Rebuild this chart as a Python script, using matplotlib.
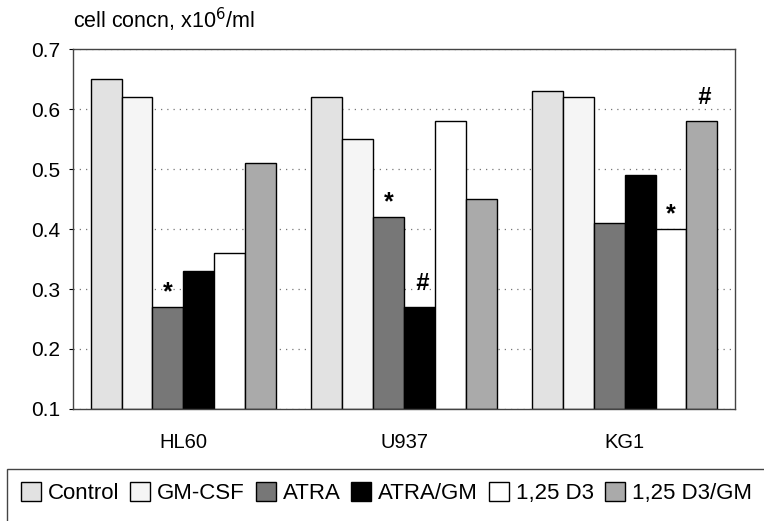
import matplotlib.pyplot as plt
import matplotlib.patches as mpatches
import numpy as np

plt.rcParams['font.family'] = ['Liberation Sans', 'DejaVu Sans']

# cell lines and treatments
groups = ['HL60', 'U937', 'KG1']
treatments = ['Control', 'GM-CSF', 'ATRA', 'ATRA/GM', '1,25 D3', '1,25 D3/GM']

# cell concentration, x10^6/ml (one list per treatment, values per cell line)
control = [0.65, 0.62, 0.63]
gm_csf = [0.62, 0.55, 0.62]
atra = [0.27, 0.42, 0.41]
atra_gm = [0.33, 0.27, 0.49]
d3 = [0.36, 0.58, 0.40]
d3_gm = [0.51, 0.45, 0.58]
values = [control, gm_csf, atra, atra_gm, d3, d3_gm]

# significance marks: (treatment index, group index, symbol)
marks = [(2, 0, '*'), (2, 1, '*'), (3, 1, '#'), (4, 2, '*'), (5, 2, '#')]

colors = ['#e2e2e2', '#f5f5f5', '#777777', 'black', 'white', '#aaaaaa']

fig = plt.figure(figsize=(7.64, 5.21), dpi=100)
ax = fig.add_axes([73/764, 1 - 409/521, (735 - 73)/764, (409 - 49)/521])

x = np.arange(len(groups))
w = 0.14
for i, (name, vals) in enumerate(zip(treatments, values)):
    pos = x - 2.5*w + i*w
    ax.bar(pos, np.array(vals) - 0.1, w, bottom=0.1, color=colors[i],
           edgecolor='black', linewidth=1.0, label=name)

for ti, gi, sym in marks:
    xp = x[gi] - 2.5*w + ti*w
    yv = values[ti][gi]
    if sym == '*':
        ax.text(xp, yv + 0.005, sym, ha='center', va='bottom', fontsize=18, fontweight='bold')
    else:
        ax.text(xp + 0.01, yv + 0.02, sym, ha='center', va='bottom', fontsize=17,
                style='italic', fontweight='bold')

ax.set_ylim(0.1, 0.7)
ax.set_xlim(-0.5, 2.5)
ax.set_yticks([0.1, 0.2, 0.3, 0.4, 0.5, 0.6, 0.7])
ax.set_yticklabels(['0.1', '0.2', '0.3', '0.4', '0.5', '0.6', '0.7'], fontsize=15)
ax.set_xticks(x)
ax.set_xticklabels(groups, fontsize=14.5)
ax.tick_params(axis='x', length=0, pad=17)
ax.tick_params(axis='y', length=3, pad=6)
ax.yaxis.grid(True, linestyle=(0, (1, 4)), color='#777777', linewidth=0.9)
ax.set_axisbelow(True)
for s in ax.spines.values():
    s.set_color('#444444')
    s.set_linewidth(1.0)

fig.text(73/764, 1 - 20/521, 'cell concn, x10$^6$/ml', fontsize=15.5, va='center', ha='left')

# legend box running off the figure edge
fig.patches.append(mpatches.Rectangle((7/764, -0.05), 1.0, (521 - 469)/521 + 0.05,
                                      transform=fig.transFigure, fill=False,
                                      edgecolor='#444444', linewidth=1.0))
fig.legend(loc='center left', bbox_to_anchor=(21/764, 1 - 493/521), ncol=6,
           frameon=False, fontsize=16, handlelength=0.9, handleheight=0.9,
           handletextpad=0.3, columnspacing=0.5, borderaxespad=0, borderpad=0)

fig.savefig('out.png', dpi=100)
